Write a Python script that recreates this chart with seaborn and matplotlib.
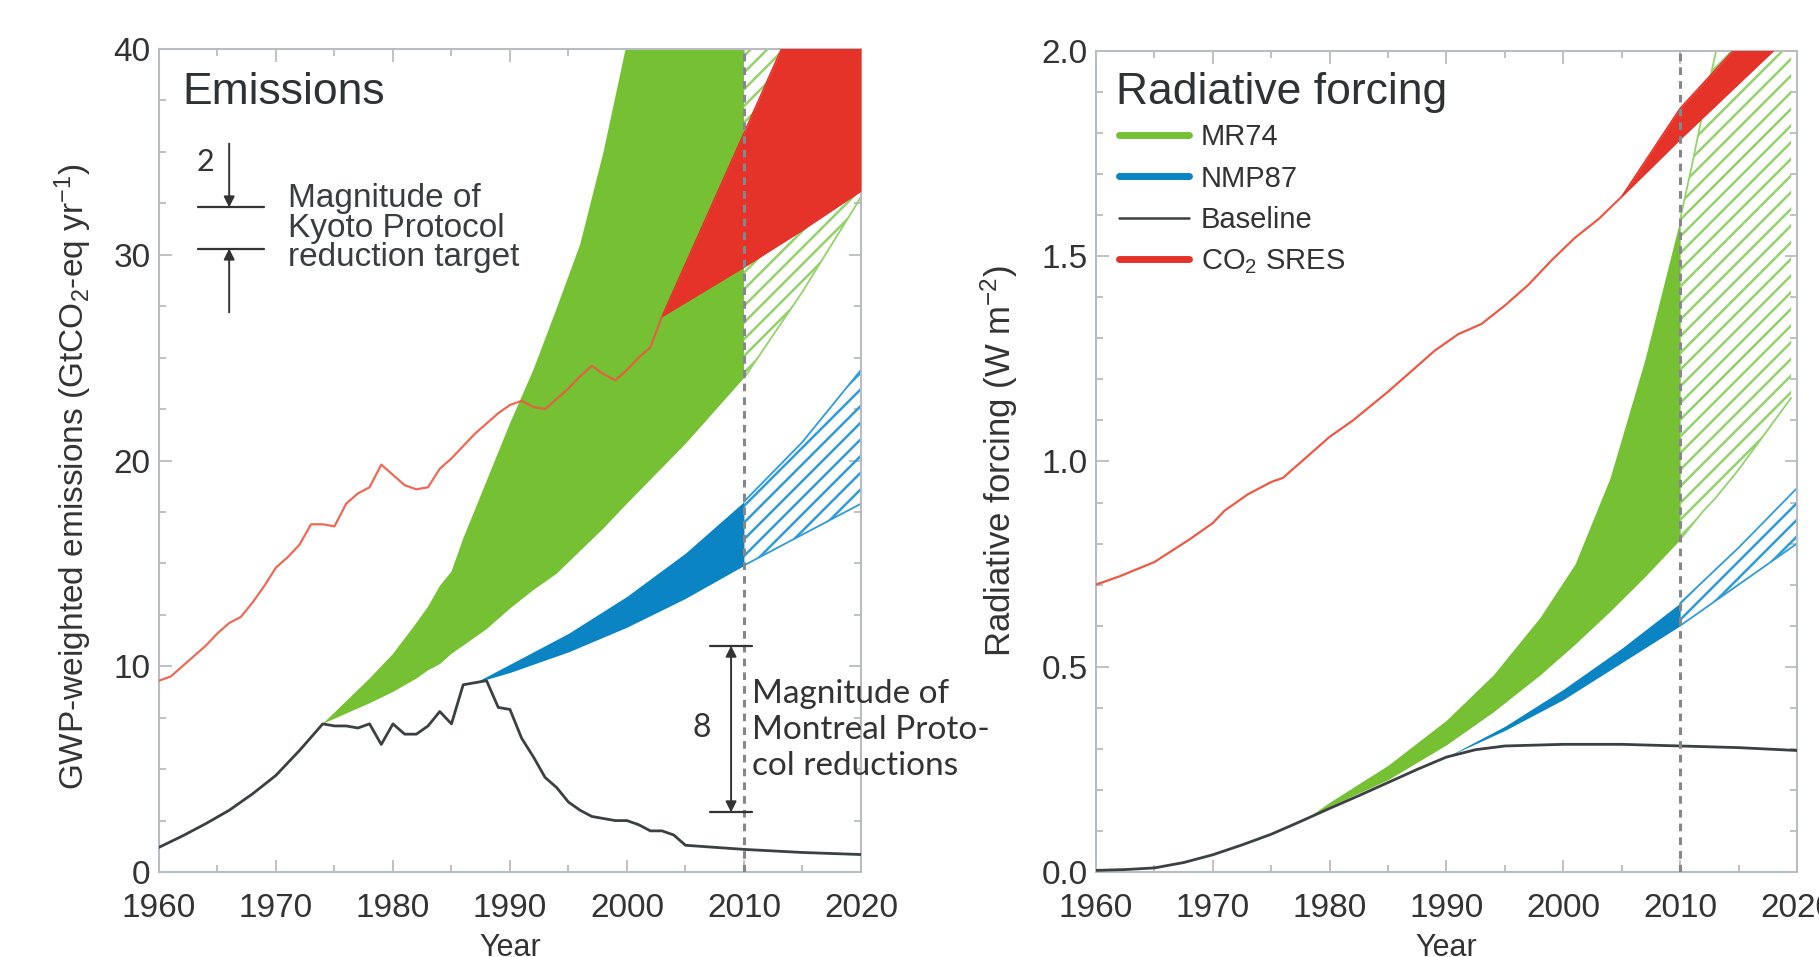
import numpy as np
import pandas as pd
import seaborn as sns
import matplotlib.pyplot as plt
from matplotlib.lines import Line2D
from matplotlib.ticker import MultipleLocator, FormatStrFormatter

# ---- Emissions panel (GtCO2-eq / yr) ----
base_years = [1960, 1962, 1964, 1966, 1968, 1970, 1972,
              1974, 1975, 1976, 1977, 1978, 1979, 1980,
              1981, 1982, 1983, 1984, 1985, 1986, 1987, 1988, 1989, 1990,
              1991, 1992, 1993, 1994, 1995, 1996, 1997, 1998, 1999, 2000,
              2001, 2002, 2003, 2004, 2005, 2010, 2015, 2020]
base_emis = [1.2, 1.75, 2.35, 3.0, 3.8, 4.7, 5.9,
             7.2, 7.1, 7.1, 7.0, 7.2, 6.2, 7.2,
             6.7, 6.7, 7.1, 7.8, 7.2, 9.1, 9.2, 9.3, 8.0, 7.9,
             6.5, 5.6, 4.6, 4.1, 3.4, 3.0, 2.7, 2.6, 2.5, 2.5,
             2.3, 2.0, 2.0, 1.8, 1.3, 1.1, 0.95, 0.85]

co2_years = list(range(1960, 2004))
co2_emis = [9.3, 9.5, 10.0, 10.5, 11.0, 11.6, 12.1, 12.4, 13.1, 13.9,
            14.8, 15.3, 15.9, 16.9, 16.9, 16.8, 17.9, 18.4, 18.7, 19.8,
            19.3, 18.8, 18.6, 18.7, 19.6, 20.1, 20.7, 21.3, 21.8, 22.3,
            22.7, 22.9, 22.6, 22.5, 23.0, 23.5, 24.1, 24.6, 24.2, 23.9,
            24.4, 25.0, 25.5, 27.0]

mr74_years = [1974, 1976, 1978, 1980, 1982, 1983, 1984, 1985, 1986, 1988, 1990,
              1992, 1994, 1996, 1998, 2000, 2005, 2010, 2015, 2020]
mr74_low = [7.2, 7.7, 8.2, 8.75, 9.4, 9.8, 10.1, 10.6, 11.0, 11.8, 12.8,
            13.7, 14.5, 15.6, 16.7, 17.9, 20.8, 24.0, 28.2, 32.8]
mr74_high = [7.2, 8.3, 9.4, 10.6, 12.1, 12.9, 13.9, 14.6, 16.2, 19.0, 21.8,
             24.4, 27.4, 30.5, 35.0, 40.3, 57.0, 82.0, 118.0, 170.0]

nmp87_years = [1987, 1990, 1995, 2000, 2005, 2010, 2015, 2020]
nmp87_low = [9.2, 9.7, 10.7, 11.9, 13.3, 14.9, 16.4, 17.9]
nmp87_high = [9.2, 10.1, 11.6, 13.4, 15.5, 18.0, 20.9, 24.4]

sres_years = [2003, 2010, 2015, 2020]
sres_low = [27.0, 29.4, 31.2, 33.1]
sres_high = [27.0, 35.9, 42.3, 48.7]

# ---- Radiative forcing panel (W m-2) ----
rf_base_years = [1960, 1962.5, 1965, 1967.5, 1970, 1972.5, 1975, 1977.5, 1980, 1982.5,
                 1985, 1987.5, 1990, 1992.5, 1995, 2000, 2005, 2010, 2015, 2020]
rf_base = [0.004, 0.006, 0.01, 0.023, 0.042, 0.066, 0.092, 0.123, 0.155, 0.186,
           0.218, 0.25, 0.28, 0.298, 0.307, 0.311, 0.311, 0.307, 0.303, 0.296]

rf_co2_years = [1960, 1962, 1965, 1968, 1970, 1971, 1973, 1975, 1976, 1978, 1980, 1982,
                1985, 1987, 1989, 1991, 1993, 1995, 1997, 1999, 2001, 2003, 2005]
rf_co2 = [0.70, 0.72, 0.755, 0.81, 0.85, 0.88, 0.92, 0.95, 0.96, 1.01, 1.06, 1.10,
          1.17, 1.22, 1.27, 1.31, 1.335, 1.38, 1.43, 1.49, 1.545, 1.59, 1.645]

rf_mr74_years = [1978, 1980, 1985, 1990, 1994, 1998, 2001, 2004, 2007, 2010,
                 2011, 2012, 2013, 2015, 2019.5]
rf_mr74_low = [0.13, 0.16, 0.225, 0.31, 0.39, 0.48, 0.555, 0.635, 0.72, 0.81,
               0.845, 0.88, 0.91, 0.98, 1.155]
rf_mr74_high = [0.13, 0.17, 0.26, 0.37, 0.48, 0.62, 0.75, 0.96, 1.25, 1.59,
                1.72, 1.86, 1.99, 2.25, 2.85]

rf_nmp87_years = [1990, 1995, 2000, 2005, 2010, 2015, 2020]
rf_nmp87_low = [0.28, 0.345, 0.42, 0.51, 0.60, 0.70, 0.80]
rf_nmp87_high = [0.28, 0.355, 0.445, 0.545, 0.655, 0.79, 0.935]

rf_sres_years = [2005, 2010, 2015, 2020]
rf_sres_low = [1.645, 1.785, 1.92, 2.055]
rf_sres_high = [1.645, 1.86, 2.015, 2.17]

legend_labels = ['MR74', 'NMP87', 'Baseline', 'CO$_2$ SRES']

GREEN = '#76c034'
GREEN_H = '#94d26c'
BLUE = '#0a84c2'
BLUE_H = '#2f9cd8'
RED = '#e5332a'
RED_LINE = '#ea5a45'
BLACK = '#3b4043'
TXT = '#333333'

sns.set_style('ticks')
plt.rcParams['font.family'] = ['Liberation Sans', 'DejaVu Sans']
plt.rcParams['mathtext.fontset'] = 'custom'
plt.rcParams['mathtext.rm'] = 'Liberation Sans'
plt.rcParams['mathtext.it'] = 'Liberation Sans:italic'
plt.rcParams['mathtext.default'] = 'regular'
plt.rcParams['hatch.linewidth'] = 1.8


def band(ax, years, low, high, color, hatch_color, split=2010):
    df = pd.DataFrame({'year': years, 'low': low, 'high': high})
    past = df[df.year <= split]
    fut = df[df.year >= split]
    ax.fill_between(past.year, past.low, past.high, color=color, lw=0, zorder=2)
    ax.fill_between(fut.year, fut.low, fut.high, facecolor='none', edgecolor=hatch_color,
                    hatch='//', lw=0, zorder=2)
    sns.lineplot(data=fut, x='year', y='low', ax=ax, color=hatch_color, lw=1.3, zorder=2)
    sns.lineplot(data=fut, x='year', y='high', ax=ax, color=hatch_color, lw=1.3, zorder=2)


def style_axes(ax):
    ax.set_xlim(1960, 2020)
    ax.xaxis.set_major_locator(MultipleLocator(10))
    ax.xaxis.set_minor_locator(MultipleLocator(5))
    for s in ax.spines.values():
        s.set_visible(True)
        s.set_color('#b9bdc1')
        s.set_linewidth(1.5)
    ax.tick_params(which='both', direction='in', top=True, right=True,
                   color='#b9bdc1', width=1.3, labelsize=24, labelcolor=TXT)
    ax.tick_params(which='major', length=9)
    ax.tick_params(which='minor', length=5)
    ax.tick_params(axis='x', pad=15)
    ax.tick_params(axis='y', pad=6)
    ax.axvline(2010, color='#85888b', lw=2.2, ls=(0, (2.5, 2)), zorder=6)
    ax.set_xlabel('Year', fontsize=22, color=TXT)
    ax.xaxis.set_label_coords(0.5, -0.074)


fig = plt.figure(figsize=(18.19, 9.57), dpi=100)
ax1 = fig.add_axes([0.0874, 0.0888, 0.3859, 0.860])
ax2 = fig.add_axes([0.6025, 0.0888, 0.3854, 0.858])

# ---------------- Emissions ----------------
band(ax1, mr74_years, mr74_low, mr74_high, GREEN, GREEN_H)
band(ax1, nmp87_years, nmp87_low, nmp87_high, BLUE, BLUE_H)
ax1.fill_between(sres_years, sres_low, sres_high, color=RED, lw=0, zorder=3)
sns.lineplot(x=sres_years, y=sres_high, ax=ax1, color=RED, lw=1.2, zorder=3)
sns.lineplot(x=sres_years, y=sres_low, ax=ax1, color=RED, lw=1.2, zorder=3)
sns.lineplot(x=co2_years, y=co2_emis, ax=ax1, color=RED_LINE, lw=1.6, alpha=0.9, zorder=4)
sns.lineplot(x=base_years, y=base_emis, ax=ax1, color=BLACK, lw=2.0, zorder=4)

style_axes(ax1)
ax1.set_ylim(0, 40)
ax1.yaxis.set_major_locator(MultipleLocator(10))
ax1.yaxis.set_minor_locator(MultipleLocator(2.5))
ax1.set_ylabel('GWP-weighted emissions (GtCO$_2$-eq yr$^{-1}$)', fontsize=24, color=TXT)
ax1.yaxis.set_label_coords(-0.092, 0.48)
ax1.text(0.033, 0.933, 'Emissions', transform=ax1.transAxes, fontsize=32, color='#2f3235',
         va='baseline', ha='left')

# Kyoto reduction marker
ak = dict(arrowstyle='-|>', color=TXT, lw=1.4, shrinkA=0, shrinkB=0, mutation_scale=16)
ax1.annotate('', xy=(1966, 32.3), xytext=(1966, 35.4), arrowprops=ak, zorder=6)
ax1.annotate('', xy=(1966, 30.3), xytext=(1966, 27.2), arrowprops=ak, zorder=6)
ax1.plot([1963.3, 1969.0], [32.3, 32.3], color=TXT, lw=1.6)
ax1.plot([1963.3, 1969.0], [30.3, 30.3], color=TXT, lw=1.6)
ax1.text(1964.0, 34.5, '2', fontsize=22, color=TXT, family=['Lato', 'DejaVu Sans'],
         ha='center', va='center')
ax1.text(1971.0, 31.3, 'Magnitude of\nKyoto Protocol\nreduction target', fontsize=24,
         color='#3a3d40', ha='left', va='center', linespacing=0.95)

# Montreal reduction marker
ax1.annotate('', xy=(2008.9, 11.0), xytext=(2008.9, 2.9),
             arrowprops=dict(arrowstyle='<|-|>', color=TXT, lw=1.4, shrinkA=0, shrinkB=0,
                             mutation_scale=16), zorder=6)
ax1.plot([2007.1, 2010.7], [11.0, 11.0], color=TXT, lw=1.6, zorder=6)
ax1.plot([2007.1, 2010.7], [2.9, 2.9], color=TXT, lw=1.6, zorder=6)
ax1.text(2006.4, 7.0, '8', fontsize=23, color=TXT, family=['Lato', 'DejaVu Sans'],
         ha='center', va='center')
ax1.text(2010.7, 6.9, 'Magnitude of\nMontreal Proto-\ncol reductions', fontsize=24,
         color=TXT, family=['Lato', 'DejaVu Sans'], ha='left', va='center',
         linespacing=1.25, clip_on=False, zorder=7)

# ---------------- Radiative forcing ----------------
band(ax2, rf_mr74_years, rf_mr74_low, rf_mr74_high, GREEN, GREEN_H)
band(ax2, rf_nmp87_years, rf_nmp87_low, rf_nmp87_high, BLUE, BLUE_H)
ax2.fill_between(rf_sres_years, rf_sres_low, rf_sres_high, color=RED, lw=0, zorder=3)
sns.lineplot(x=rf_sres_years, y=rf_sres_high, ax=ax2, color=RED, lw=1.2, zorder=3)
sns.lineplot(x=rf_sres_years, y=rf_sres_low, ax=ax2, color=RED, lw=1.2, zorder=3)
sns.lineplot(x=rf_co2_years, y=rf_co2, ax=ax2, color=RED_LINE, lw=1.6, zorder=4)
sns.lineplot(x=rf_base_years, y=rf_base, ax=ax2, color=BLACK, lw=2.0, zorder=4)

style_axes(ax2)
ax2.set_ylim(0, 2.0)
ax2.yaxis.set_major_locator(MultipleLocator(0.5))
ax2.yaxis.set_minor_locator(MultipleLocator(0.1))
ax2.yaxis.set_major_formatter(FormatStrFormatter('%.1f'))
ax2.set_ylabel('Radiative forcing (W m$^{-2}$)', fontsize=25, color=TXT)
ax2.yaxis.set_label_coords(-0.108, 0.5)
ax2.text(0.029, 0.935, 'Radiative forcing', transform=ax2.transAxes, fontsize=32,
         color='#2f3235', va='baseline', ha='left')

handles = [Line2D([], [], color=GREEN, lw=5),
           Line2D([], [], color=BLUE, lw=5),
           Line2D([], [], color=BLACK, lw=1.8),
           Line2D([], [], color=RED, lw=5)]
leg = ax2.legend(handles, legend_labels, loc='upper left', bbox_to_anchor=(0.033, 0.912),
                 frameon=False, fontsize=21, handlelength=2.4, handletextpad=0.4,
                 labelspacing=0.46, borderpad=0, borderaxespad=0)
for t in leg.get_texts():
    t.set_color(TXT)

fig.savefig('out.png', dpi=100)
